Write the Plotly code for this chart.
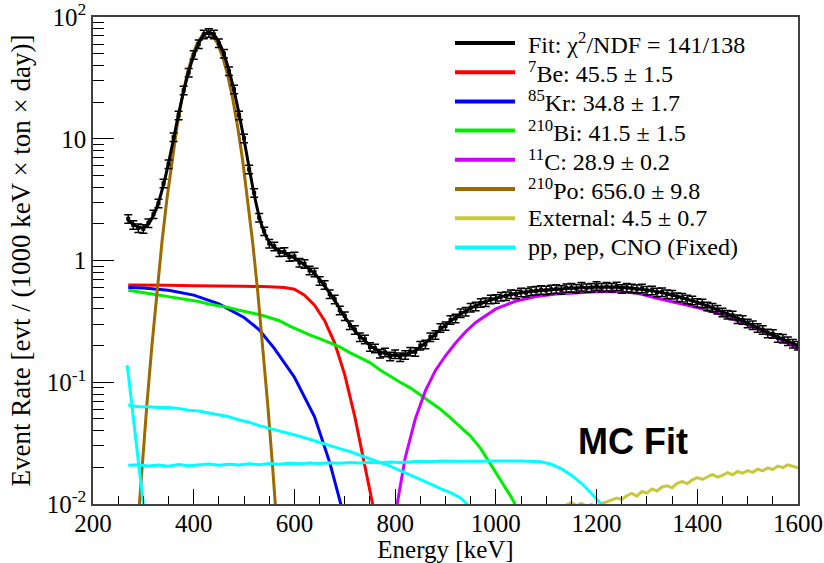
import plotly.graph_objects as go

# ---------------- data ----------------
data_x = list(range(270, 1601, 10))
data_y = [2.2, 1.96, 1.85, 1.82, 2.03, 2.4, 2.95, 4.3, 6.2, 10.3,
          15.6, 25, 35, 49, 60, 72, 74, 72, 61, 50,
          36, 25.5, 15.6, 10.1, 5.6, 3.6, 2.25, 1.74, 1.38, 1.31,
          1.17, 1.18, 1.07, 1.08, 0.96, 0.94, 0.83, 0.80, 0.68, 0.63,
          0.53, 0.48, 0.39, 0.35, 0.295, 0.27, 0.235, 0.225, 0.195, 0.19,
          0.172, 0.176, 0.163, 0.17, 0.161, 0.168, 0.179, 0.178, 0.2, 0.205,
          0.235, 0.245, 0.28, 0.29, 0.325, 0.335, 0.37, 0.38, 0.41, 0.42,
          0.45, 0.455, 0.48, 0.485, 0.505, 0.51, 0.53, 0.528, 0.548, 0.545,
          0.56, 0.565, 0.575, 0.568, 0.58, 0.585, 0.575, 0.595, 0.6, 0.588,
          0.61, 0.595, 0.6, 0.62, 0.598, 0.61, 0.6, 0.615, 0.585, 0.6,
          0.59, 0.582, 0.59, 0.565, 0.57, 0.548, 0.55, 0.53, 0.525, 0.5,
          0.495, 0.48, 0.47, 0.45, 0.445, 0.42, 0.41, 0.395, 0.375, 0.36,
          0.355, 0.33, 0.325, 0.305, 0.295, 0.28, 0.27, 0.252, 0.25, 0.232,
          0.228, 0.218, 0.208, 0.2]
data_err_pct = 8

fit_x = [270, 280, 290, 300, 310, 320, 330, 340, 350, 360, 370, 380, 390, 400,
         410, 420, 430, 440, 450, 460, 470, 480, 490, 500, 510, 520, 530, 540,
         550, 560, 570, 580, 590, 600, 610, 620, 630, 640, 650, 660, 670, 680,
         690, 700, 710, 720, 730, 740, 750, 760, 770, 780, 790, 800, 810, 820,
         830, 840, 850, 860, 870, 880, 890, 900, 910, 920, 930, 940, 950, 960,
         970, 980, 990, 1000, 1020, 1040, 1060, 1080, 1100, 1120, 1140, 1160,
         1180, 1200, 1220, 1240, 1260, 1280, 1300, 1320, 1340, 1360, 1380,
         1400, 1420, 1440, 1460, 1480, 1500, 1520, 1540, 1560, 1580, 1600]
fit_y = [2.15, 1.98, 1.88, 1.86, 2.0, 2.35, 3.0, 4.2, 6.3, 10.0, 16.0, 24.5, 35.5, 48,
         61, 71, 75, 71.5, 62, 49.5, 36.5, 25, 16, 9.8, 5.8, 3.5, 2.3, 1.7,
         1.42, 1.28, 1.2, 1.15, 1.10, 1.05, 0.98, 0.92, 0.85, 0.78, 0.70, 0.62, 0.54, 0.47,
         0.40, 0.345, 0.30, 0.265, 0.24, 0.22, 0.20, 0.188, 0.178, 0.172, 0.168, 0.166, 0.166, 0.17,
         0.174, 0.182, 0.195, 0.21, 0.228, 0.25, 0.272, 0.295, 0.318, 0.34, 0.362, 0.385, 0.405, 0.425,
         0.443, 0.46, 0.475, 0.49, 0.515, 0.535, 0.55, 0.562, 0.572, 0.58, 0.588, 0.595,
         0.6, 0.603, 0.605, 0.603, 0.597, 0.587, 0.573, 0.555, 0.533, 0.508, 0.48,
         0.452, 0.423, 0.393, 0.364, 0.335, 0.307, 0.28, 0.256, 0.235, 0.217, 0.2]

be7_x = [270, 300, 350, 400, 450, 500, 550, 580, 600, 620, 640, 660, 680, 700, 720, 740, 760]
be7_y = [0.63, 0.63, 0.625, 0.62, 0.62, 0.615, 0.61, 0.60, 0.58, 0.52, 0.43, 0.32, 0.21, 0.115, 0.052, 0.021, 0.008]

kr85_x = [270, 300, 350, 400, 450, 500, 530, 560, 600, 640, 670, 695]
kr85_y = [0.60, 0.595, 0.57, 0.52, 0.44, 0.34, 0.27, 0.19, 0.11, 0.052, 0.022, 0.009]

bi210_x = [270, 290, 310, 330, 350, 370, 390, 410, 430, 450, 470, 490, 510, 530, 550, 570,
           590, 610, 630, 650, 670, 690, 710, 730, 750, 770, 790, 810, 830, 850, 870, 890,
           910, 930, 950, 970, 990, 1010, 1030, 1045]
bi210_y = [0.57, 0.555, 0.54, 0.52, 0.505, 0.49, 0.47, 0.46, 0.44, 0.425, 0.41, 0.39, 0.375, 0.36, 0.34, 0.32,
           0.29, 0.265, 0.245, 0.228, 0.212, 0.195, 0.175, 0.16, 0.145, 0.126, 0.112, 0.10, 0.09, 0.079, 0.069, 0.06,
           0.051, 0.043, 0.036, 0.0285, 0.021, 0.0155, 0.0115, 0.0088]

c11_x = [800, 810, 820, 840, 860, 880, 900, 920, 940, 960, 980, 1000, 1040, 1080, 1120, 1160,
         1200, 1240, 1280, 1320, 1360, 1400, 1440, 1480, 1520, 1560, 1600]
c11_y = [0.008, 0.014, 0.024, 0.05, 0.085, 0.125, 0.165, 0.21, 0.26, 0.31, 0.355, 0.40, 0.465, 0.505, 0.53, 0.545,
         0.555, 0.555, 0.54, 0.49, 0.45, 0.41, 0.37, 0.32, 0.275, 0.23, 0.19]

po210_x = [287, 297, 307, 317, 327, 337, 347, 357, 367, 377, 387, 397, 407, 417, 427,
           437, 447, 457, 467, 477, 487, 497, 507, 517, 527, 537, 547, 557, 567]
po210_y = [0.0052, 0.0193, 0.0654, 0.201, 0.56, 1.42, 3.25, 6.76, 12.7, 21.8, 33.9, 47.7, 60.9, 70.5, 74,
           70.5, 60.9, 47.7, 33.9, 21.8, 12.7, 6.76, 3.25, 1.42, 0.56, 0.201, 0.0654, 0.0193, 0.0052]

ext_x = list(range(1140, 1601, 10))
ext_y = [0.0098, 0.0103, 0.0097, 0.0101, 0.0096, 0.0099, 0.0095, 0.0101, 0.0104, 0.0108,
         0.0112, 0.0109, 0.0117, 0.0122, 0.0116, 0.0127, 0.0123, 0.0133, 0.0128, 0.0138,
         0.0141, 0.0136, 0.0148, 0.0153, 0.0147, 0.0158, 0.0165, 0.0159, 0.0167, 0.0175,
         0.0166, 0.0172, 0.0181, 0.0174, 0.0185, 0.0179, 0.0188, 0.0182, 0.0193, 0.0187,
         0.0198, 0.0192, 0.0205, 0.0199, 0.021, 0.0203, 0.0198]

pp_x = [268, 275, 285, 295, 305]
pp_y = [0.138, 0.077, 0.034, 0.015, 0.0066]

pep_x = [270, 290, 310, 330, 350, 370, 390, 410, 430, 450, 470, 490, 510, 530, 550, 570,
         590, 610, 630, 650, 670, 690, 710, 730, 750, 770, 790, 810, 830, 850, 870, 890,
         910, 930, 950, 970, 990, 1010, 1030, 1050, 1070, 1090, 1110, 1130, 1150, 1170, 1190, 1210]
pep_y = [0.0208, 0.021, 0.0205, 0.0209, 0.0204, 0.0211, 0.0206, 0.021, 0.0213, 0.0208, 0.0212, 0.0209,
         0.0214, 0.021, 0.0215, 0.0212, 0.0216, 0.0214, 0.0217, 0.0215, 0.0218, 0.0216, 0.0219, 0.0217,
         0.022, 0.0218, 0.0221, 0.0219, 0.0222, 0.0224, 0.0222, 0.0226, 0.0224, 0.0223, 0.0225, 0.0224,
         0.0226, 0.0224, 0.0225, 0.0226, 0.0225, 0.0222, 0.0212, 0.0195, 0.0172, 0.0148, 0.0122, 0.0099]

cno_x = [270, 290, 310, 330, 350, 370, 390, 410, 430, 450, 470, 490, 510, 530, 550, 570,
         590, 610, 630, 650, 670, 690, 710, 730, 750, 770, 790, 810, 830, 850, 870, 890,
         910, 930, 945]
cno_y = [0.065, 0.063, 0.063, 0.062, 0.062, 0.061, 0.059, 0.058, 0.056, 0.054, 0.052, 0.049,
         0.047, 0.044, 0.042, 0.040, 0.038, 0.036, 0.034, 0.032, 0.030, 0.0285, 0.027, 0.0252,
         0.0238, 0.0222, 0.0205, 0.0188, 0.0172, 0.0158, 0.0146, 0.0134, 0.0124, 0.0112, 0.0098]

x_ticks = [200, 400, 600, 800, 1000, 1200, 1400, 1600]
y_ticks = [0.01, 0.1, 1, 10, 100]
y_ticktext = ["10<sup>-2</sup>", "10<sup>-1</sup>", "1", "10", "10<sup>2</sup>"]

legend_names = ["Fit: χ<sup>2</sup>/NDF = 141/138",
                "<sup>7</sup>Be: 45.5 ± 1.5",
                "<sup>85</sup>Kr: 34.8 ± 1.7",
                "<sup>210</sup>Bi: 41.5 ± 1.5",
                "<sup>11</sup>C: 28.9 ± 0.2",
                "<sup>210</sup>Po: 656.0 ± 9.8",
                "External: 4.5 ± 0.7",
                "pp, pep, CNO (Fixed)"]

# ---------------- styles ----------------
SERIF = "Liberation Serif, Times New Roman, serif"
C_FIT, C_BE, C_KR, C_BI = "black", "#ff0000", "#0000ff", "#00ee00"
C_C, C_PO, C_EXT, C_NU = "#cc00ff", "#9c6a00", "#c8c83a", "#00ffff"
legend_colors = [C_FIT, C_BE, C_KR, C_BI, C_C, C_PO, C_EXT, C_NU]

W, H = 824, 563
ML, MR, MT, MB = 93, 26, 17, 59
PW, PH = W - ML - MR, H - MT - MB

fig = go.Figure()

def line(x, y, color, name):
    fig.add_trace(go.Scatter(x=x, y=y, mode="lines", name=name,
                             line=dict(color=color, width=3), showlegend=False))

line(be7_x, be7_y, C_BE, legend_names[1])
line(kr85_x, kr85_y, C_KR, legend_names[2])
line(bi210_x, bi210_y, C_BI, legend_names[3])
line(c11_x, c11_y, C_C, legend_names[4])
line(po210_x, po210_y, C_PO, legend_names[5])
line(ext_x, ext_y, C_EXT, legend_names[6])
line(pp_x, pp_y, C_NU, "pp")
line(pep_x, pep_y, C_NU, "pep")
line(cno_x, cno_y, C_NU, "CNO")

fig.add_trace(go.Scatter(x=fit_x, y=fit_y, mode="lines", name=legend_names[0], showlegend=False,
                         line=dict(color=C_FIT, width=3, shape="spline", smoothing=0.6)))
fig.add_trace(go.Scatter(x=data_x, y=data_y, mode="markers", showlegend=False, name="data",
                         marker=dict(color="black", size=4, symbol="square"),
                         error_y=dict(type="percent", value=data_err_pct, color="black",
                                      thickness=1.5, width=4)))

# legend (drawn as key lines + texts in the upper right corner)
LEG_X0, LEG_X1, LEG_TX, LEG_Y0, LEG_DY = 455, 515, 526, 43, 29.2
for i, (name, col) in enumerate(zip(legend_names, legend_colors)):
    ypx = LEG_Y0 + i * LEG_DY
    yp = (H - MB - ypx) / PH
    fig.add_shape(type="line", xref="paper", yref="paper",
                  x0=(LEG_X0 - ML) / PW, x1=(LEG_X1 - ML) / PW, y0=yp, y1=yp,
                  line=dict(color=col, width=4))
    fig.add_annotation(xref="paper", yref="paper", x=(LEG_TX - ML) / PW, y=yp,
                       xanchor="left", yanchor="middle", text=name, showarrow=False,
                       font=dict(family=SERIF, size=24, color="black"))

fig.add_annotation(x=1272, y=-1.49, xref="x", yref="y", text="<b>MC Fit</b>",
                   showarrow=False, font=dict(family="Liberation Sans, Arial", size=36, color="black"))

axis_common = dict(showgrid=False, zeroline=False, showline=True, mirror=True, automargin=False,
                   linecolor="#404040", linewidth=1.5, ticks="inside", tickcolor="black",
                   tickwidth=1, ticklabeloverflow="allow",
                   tickfont=dict(family=SERIF, size=25, color="black"))

fig.update_xaxes(range=[200, 1600], tickvals=x_ticks, ticklen=15, ticklabelstandoff=-4,
                 minor=dict(dtick=50, ticks="inside", ticklen=8, tickcolor="black", showgrid=False),
                 title=dict(text="Energy [keV]", font=dict(family=SERIF, size=25, color="black"),
                            standoff=8),
                 **axis_common)
fig.update_yaxes(type="log", range=[-2, 2], tickvals=y_ticks, ticktext=y_ticktext, ticklen=21,
                 minor=dict(dtick="D1", ticks="inside", ticklen=11, tickcolor="black", showgrid=False),
                 title=dict(text="Event Rate [evt / (1000 keV × ton × day)]",
                            font=dict(family=SERIF, size=27, color="black"), standoff=8),
                 **axis_common)

fig.update_layout(
    width=W, height=H, autosize=False,
    margin=dict(l=ML, r=MR, t=MT, b=MB),
    plot_bgcolor="white", paper_bgcolor="white",
    showlegend=False,
)

fig.write_html("out.html")
